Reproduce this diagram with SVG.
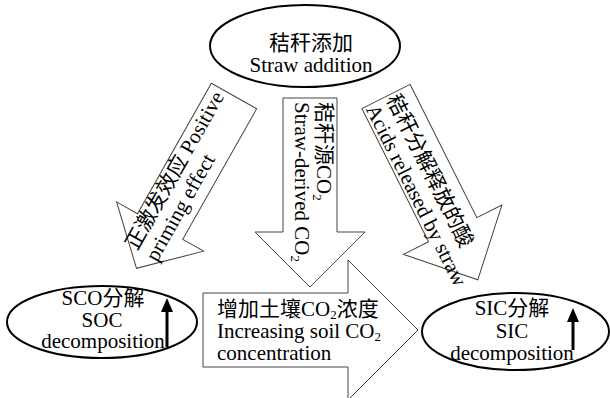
<svg xmlns="http://www.w3.org/2000/svg" width="610" height="398" viewBox="0 0 610 398">
<defs>
<style>
.ell{fill:#fff;stroke:#000;stroke-width:2}
.arw{fill:#fff;stroke:#444;stroke-width:1}
.t{font-family:"Liberation Serif","Noto Sans CJK SC",serif;font-size:21px;fill:#000}
.m{text-anchor:middle}
.up{stroke:#000;stroke-width:3;fill:none}
</style>
<marker id="ah" markerUnits="userSpaceOnUse" markerWidth="14" markerHeight="12" refX="3" refY="6" orient="auto" viewBox="0 0 14 12">
<path d="M0,0 L14,6 L0,12 Z" fill="#000"/>
</marker>
</defs>
<rect width="610" height="398" fill="#fff"/>

<g id="straw-addition">
<ellipse class="ell" cx="305" cy="46" rx="95" ry="41"/>
<text class="t m" x="311" y="50">秸秆添加</text>
<text class="t m" x="311" y="72">Straw addition</text>
</g>

<g id="connectors">
<g id="arrow-priming" transform="translate(234,96) rotate(29.5)">
<polygon class="arw" points="-26,0 26,0 26,150 50,150 0,198 -50,150 -26,150"/>
<text class="t" transform="rotate(-90)" x="-183" y="-8">正激发效应 Positive</text>
<text class="t" transform="rotate(-90)" x="-183" y="15">priming effect</text>
</g>
<g id="arrow-co2">
<polygon class="arw" points="283,98 337,98 337,232 365,232 310,287 255,232 283,232"/>
<g transform="translate(310,98) rotate(90)">
<text class="t" x="4" y="-7">秸秆源CO<tspan font-size="13" dy="4">2</tspan></text>
<text class="t" x="4" y="15">Straw-derived CO<tspan font-size="13" dy="4">2</tspan></text>
</g>
</g>
<g id="arrow-acids" transform="translate(386,96.5) rotate(-26.6)">
<polygon class="arw" points="-27,0 27,0 27,149 55,149 0,205 -55,149 -27,149"/>
<text class="t" transform="rotate(90)" x="2" y="1">秸秆分解释放的酸</text>
<text class="t" transform="rotate(90)" x="2" y="24">Acids released by straw</text>
</g>
<g id="arrow-soil-co2">
<polygon class="arw" points="203,293 348,293 348,260 418,330 348,400 348,367 203,367"/>
<text class="t" x="217" y="316">增加土壤CO<tspan font-size="13" dy="3">2</tspan><tspan dy="-3">浓度</tspan></text>
<text class="t" x="217" y="338">Increasing soil CO<tspan font-size="13" dy="3">2</tspan></text>
<text class="t" x="217" y="360">concentration</text>
</g>
</g>

<g id="soc-decomposition">
<ellipse class="ell" cx="102" cy="322" rx="95" ry="36"/>
<text class="t m" x="103" y="305">SCO分解</text>
<text class="t m" x="102" y="327">SOC</text>
<text class="t m" x="103" y="348">decomposition</text>
<line class="up" x1="167" y1="347" x2="167" y2="309" marker-end="url(#ah)"/>
</g>

<g id="sic-decomposition">
<ellipse class="ell" cx="515.5" cy="331.5" rx="93.5" ry="38.5"/>
<text class="t m" x="512" y="315">SIC分解</text>
<text class="t m" x="512" y="338">SIC</text>
<text class="t m" x="512" y="360">decomposition</text>
<line class="up" x1="573" y1="350" x2="573" y2="319" marker-end="url(#ah)"/>
</g>
</svg>
